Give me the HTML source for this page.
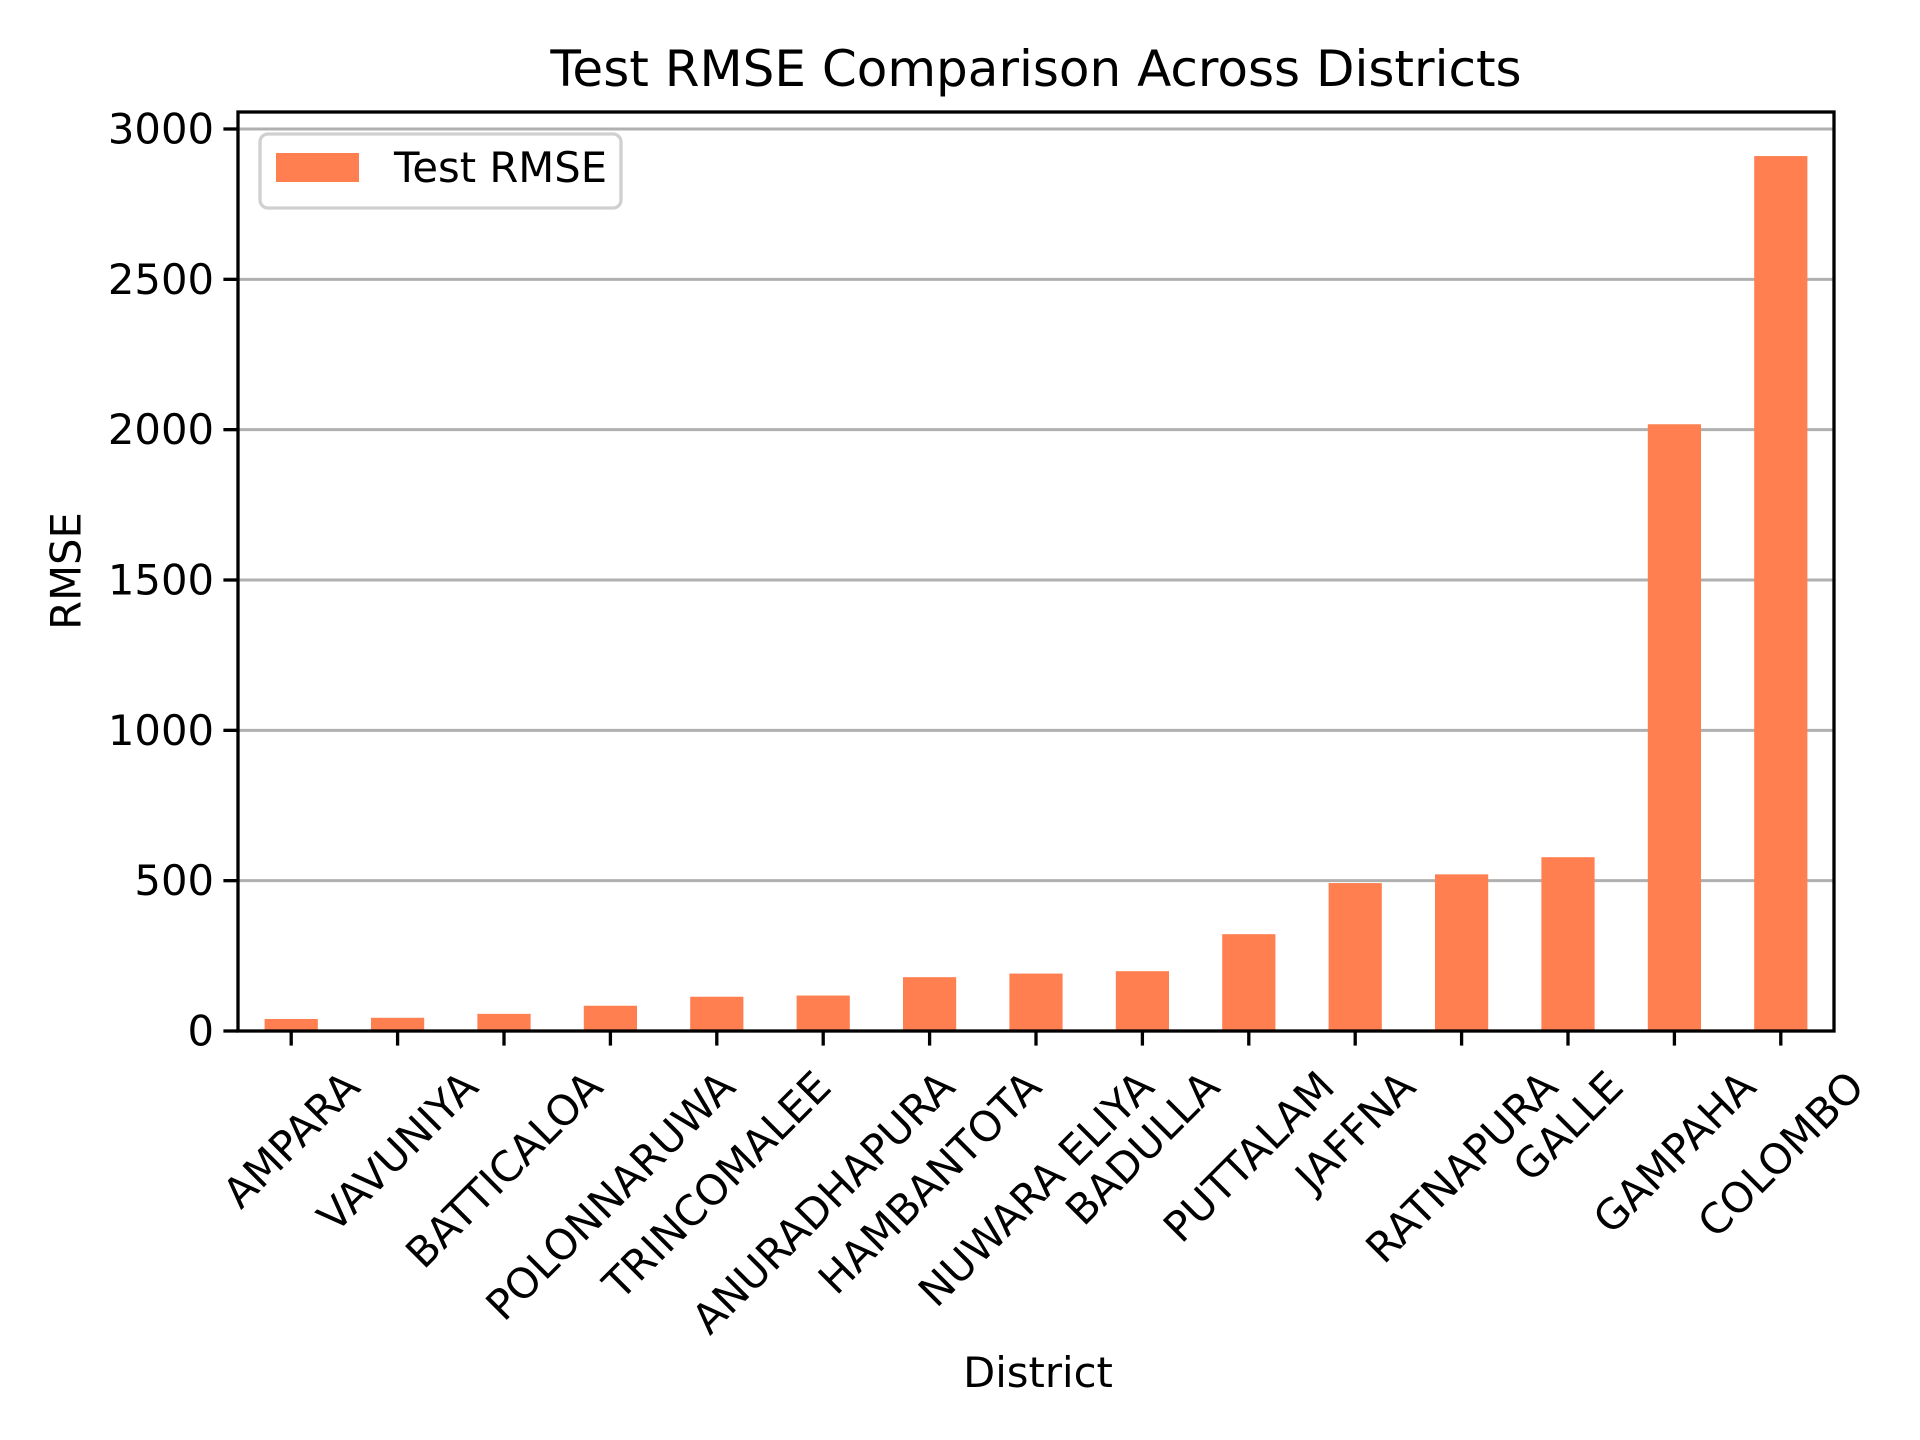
<!DOCTYPE html>
<html><head><meta charset="utf-8"><style>
html,body{margin:0;padding:0;background:#fff;}
svg{display:block;font-family:"DejaVu Sans","Liberation Sans",sans-serif;}
</style></head><body>
<svg id="chart" width="1920" height="1440" viewBox="0 0 1920 1440" xmlns="http://www.w3.org/2000/svg">
<rect width="1920" height="1440" fill="#fff"/>
<g id="grid"></g><g id="bars"></g><g id="axes"></g><g id="labels"></g>
<text x="1036" y="86" font-size="50" text-anchor="middle" fill="#000">Test RMSE Comparison Across Districts</text>
<text x="1038" y="1387" font-size="41.7" text-anchor="middle" fill="#000">District</text>
<text transform="translate(66,571) rotate(-90)" font-size="41.7" text-anchor="middle" dominant-baseline="central" fill="#000">RMSE</text>
<g>
<rect x="260" y="134" width="361" height="74" rx="8" fill="#fff" fill-opacity="0.8" stroke="#d0d0d0" stroke-width="3.3"/>
<rect x="276" y="153" width="83" height="29" fill="#FF7F50"/>
<text x="394" y="182" font-size="41.7" fill="#000">Test RMSE</text>
</g>
</svg>
<script>
const categories = ["AMPARA","VAVUNIYA","BATTICALOA","POLONNARUWA","TRINCOMALEE","ANURADHAPURA","HAMBANTOTA","NUWARA ELIYA","BADULLA","PUTTALAM","JAFFNA","RATNAPURA","GALLE","GAMPAHA","COLOMBO"];
const rmseValues = [40,44,57,84,114,118,179,191,199,322,492,521,578,2018,2910];
const yTicks = [0,500,1000,1500,2000,2500,3000];
const yTickLabels = ["0","500","1000","1500","2000","2500","3000"];

const L=238,R=1834,T=112,B=1031;
const ymax=3000, y3000=129;
function yScale(v){return B-(B-y3000)*v/ymax;}
const slot=(R-L)/categories.length;
function xScale(i){return L+slot*(i+0.5);}
const NS="http://www.w3.org/2000/svg";
function mk(tag,attrs,parent){const e=document.createElementNS(NS,tag);for(const k in attrs)e.setAttribute(k,attrs[k]);parent.appendChild(e);return e;}
const grid=document.getElementById('grid'),bars=document.getElementById('bars'),axes=document.getElementById('axes'),labels=document.getElementById('labels');

yTicks.forEach((v,i)=>{
  const y=yScale(v);
  const g=mk('line',{x1:L,x2:R,y1:y,y2:y,stroke:'#b0b0b0','stroke-width':3},grid);
  
  
  const t=mk('line',{x1:L-14.6,x2:L,y1:y,y2:y,stroke:'#000','stroke-width':3.3},axes);
  
  
  const tx=mk('text',{x:L-24,y:y,'font-size':41.7,'text-anchor':'end','dominant-baseline':'central',fill:'#000'},labels);
  tx.textContent=yTickLabels[i];
  
  
});

categories.forEach((c,i)=>{
  const cx=xScale(i), w=slot*0.5, y=yScale(rmseValues[i]);
  const b=mk('rect',{x:cx-w/2,y:y,width:w,height:B-y,fill:'#FF7F50'},bars);
  
  
  const t=mk('line',{x1:cx,x2:cx,y1:B,y2:B+14.6,stroke:'#000','stroke-width':3.3},axes);
  
  
  const tx=mk('text',{x:0,y:0,'font-size':41.7,'text-anchor':'middle','dominant-baseline':'central',fill:'#000'},labels);
  tx.textContent=c;
  
  
  const len=tx.getComputedTextLength();
  const h=31;
  const cy=1068+(len+h)*0.7071/2;
  tx.setAttribute('transform','translate('+cx+','+cy+') rotate(-45)');
});

const frame=mk('rect',{x:L,y:T,width:R-L,height:B-T,fill:'none',stroke:'#000','stroke-width':3.3},axes);


</script>
</body></html>
